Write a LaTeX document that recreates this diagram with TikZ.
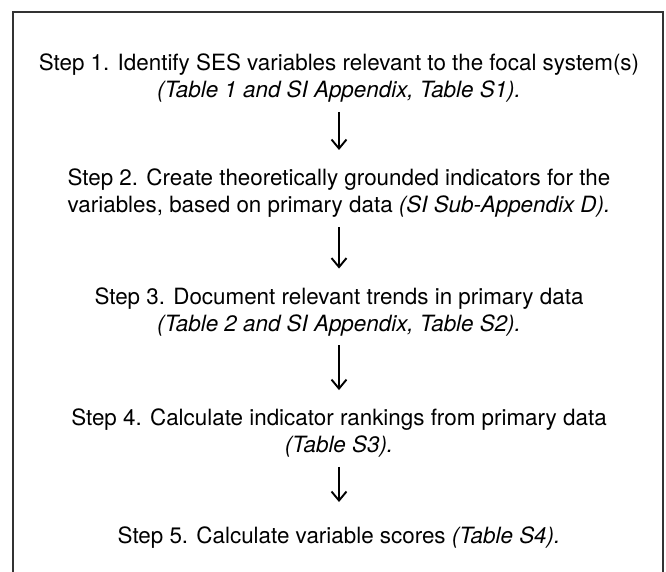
\documentclass[tikz,border=0pt]{standalone}
\usepackage{fontspec}
\setmainfont{TeX Gyre Heros}
\usetikzlibrary{arrows.meta}
\begin{document}
\begin{tikzpicture}[x=1pt,y=1pt,
  stepbox/.style={align=center,inner sep=0pt,font=\fontsize{22.4}{27}\selectfont},
  flowarrow/.style={line width=1.2pt,-{Straight Barb[line width=1.9pt,length=9pt,width=15pt]},shorten <=9pt,shorten >=19pt}]
\useasboundingbox (0,0) rectangle (666,-571);
\draw[line width=1.2pt,black!80] (13,-575) -- (13,-12) -- (663,-12) -- (663,-575);
\node[stepbox] (s1) at (339,-78.5) {Step 1. Identify SES variables relevant to the focal system(s)\\ \textit{(Table 1 and SI Appendix, Table S1).}};
\node[stepbox] (s2) at (339,-193.5) {Step 2. Create theoretically grounded indicators for the\\ variables, based on primary data \textit{(SI Sub-Appendix D).}};
\node[stepbox] (s3) at (339,-312) {Step 3. Document relevant trends in primary data\\ \textit{(Table 2 and SI Appendix, Table S2).}};
\node[stepbox] (s4) at (339,-433.5) {Step 4. Calculate indicator rankings from primary data\\ \textit{(Table S3).}};
\node[stepbox] (s5) at (339,-538) {Step 5. Calculate variable scores \textit{(Table S4).}};
\draw[flowarrow] (s1) -- (s2);
\draw[flowarrow] (s2) -- (s3);
\draw[flowarrow] (s3) -- (s4);
\draw[flowarrow,shorten >=25pt] (s4) -- (s5);
\end{tikzpicture}
\end{document}
